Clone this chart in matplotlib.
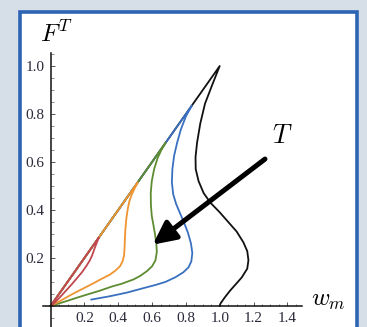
import matplotlib
matplotlib.use("Agg")
import matplotlib.pyplot as plt
from matplotlib.patches import Rectangle
from matplotlib.ticker import MultipleLocator, FixedLocator

plt.rcParams['mathtext.fontset'] = 'cm'
plt.rcParams['font.family'] = ['Liberation Serif', 'DejaVu Serif']

# curves: diagonal from origin up to the peak, then the return branch
black_w = [0.0, 1.00, 0.955, 0.913, 0.885, 0.866, 0.857, 0.858, 0.875, 0.905, 0.945,
           1.00, 1.05, 1.10, 1.14, 1.163, 1.170, 1.163, 1.13, 1.095, 1.061, 1.03, 1.005, 1.0]
black_f = [0.0, 1.00, 0.92, 0.843, 0.76, 0.68, 0.62, 0.57, 0.52, 0.47, 0.43,
           0.39, 0.35, 0.31, 0.265, 0.228, 0.19, 0.155, 0.118, 0.09, 0.063, 0.035, 0.01, 0.0]

blue_w = [0.0, 0.835, 0.80, 0.77, 0.748, 0.73, 0.72, 0.717, 0.725, 0.742, 0.763, 0.79,
          0.812, 0.83, 0.838, 0.832, 0.815, 0.785, 0.74, 0.68, 0.62, 0.55, 0.45, 0.35, 0.24]
blue_f = [0.0, 0.835, 0.79, 0.735, 0.68, 0.625, 0.57, 0.515, 0.465, 0.425, 0.39, 0.345,
          0.305, 0.26, 0.22, 0.185, 0.16, 0.14, 0.12, 0.10, 0.087, 0.074, 0.055, 0.04, 0.026]

green_w = [0.0, 0.68, 0.655, 0.632, 0.612, 0.598, 0.592, 0.593, 0.598, 0.607, 0.617, 0.625,
           0.628, 0.62, 0.60, 0.57, 0.53, 0.49, 0.42, 0.36, 0.29, 0.22, 0.16, 0.095, 0.04, 0.0]
green_f = [0.0, 0.68, 0.65, 0.615, 0.57, 0.52, 0.47, 0.42, 0.375, 0.34, 0.30, 0.26,
           0.225, 0.19, 0.165, 0.145, 0.125, 0.11, 0.092, 0.08, 0.063, 0.048, 0.035, 0.02, 0.008, 0.0]

orange_w = [0.0, 0.515, 0.497, 0.48, 0.465, 0.455, 0.447, 0.442, 0.439, 0.437, 0.434, 0.425,
            0.41, 0.385, 0.35, 0.30, 0.25, 0.20, 0.15, 0.10, 0.05, 0.0]
orange_f = [0.0, 0.515, 0.49, 0.465, 0.435, 0.40, 0.36, 0.32, 0.28, 0.24, 0.21, 0.185,
            0.165, 0.148, 0.13, 0.112, 0.093, 0.075, 0.057, 0.038, 0.018, 0.0]

red_w = [0.0, 0.285, 0.272, 0.26, 0.245, 0.232, 0.21, 0.185, 0.155, 0.125, 0.09, 0.055, 0.025, 0.0]
red_f = [0.0, 0.285, 0.262, 0.24, 0.21, 0.19, 0.165, 0.14, 0.115, 0.09, 0.063, 0.036, 0.014, 0.0]

x_ticks = [0.2, 0.4, 0.6, 0.8, 1.0, 1.2, 1.4]
y_ticks = [0.2, 0.4, 0.6, 0.8, 1.0]

# arrow tail and head in data coords
arrow_tail = (1.268, 0.612)
arrow_head = (0.604, 0.255)

fig = plt.figure(figsize=(3.67, 3.27), dpi=100)
fig.patch.set_facecolor('#d6dee8')

# white panel with blue frame
panel = Rectangle((20 / 367, -0.1), 336.5 / 367, 1.1 - 11.5 / 327,
                  transform=fig.transFigure, facecolor='white',
                  edgecolor='#2d64b3', linewidth=2.6, zorder=-1)
fig.add_artist(panel)

ax = fig.add_axes([0.1174, -0.0086, 0.7046, 0.8471])
ax.patch.set_alpha(0)
ax.set_xlim(-0.045, 1.485)
ax.set_ylim(-0.1, 1.055)

curves = [
    (black_w, black_f, '#111111'),
    (blue_w, blue_f, '#3a70c0'),
    (green_w, green_f, '#5e8c31'),
    (orange_w, orange_f, '#ef9430'),
    (red_w, red_f, '#c0474f'),
]
for w, f, c in curves:
    ax.plot(w, f, color=c, linewidth=1.3, solid_joinstyle='round')

ax.annotate('', xy=arrow_head, xytext=arrow_tail,
            arrowprops=dict(arrowstyle='-|>,head_length=0.55,head_width=0.27',
                            mutation_scale=25, lw=3.6, color='black',
                            shrinkA=0, shrinkB=0))

# Mathematica-style axes through origin
for side in ['top', 'right']:
    ax.spines[side].set_visible(False)
ax.spines['left'].set_position(('data', 0))
ax.spines['bottom'].set_position(('data', 0))
for side in ['left', 'bottom']:
    ax.spines[side].set_linewidth(1.1)
    ax.spines[side].set_color('#111111')

ax.xaxis.set_major_locator(FixedLocator(x_ticks))
ax.yaxis.set_major_locator(FixedLocator(y_ticks))
ax.xaxis.set_minor_locator(MultipleLocator(0.05))
ax.yaxis.set_minor_locator(MultipleLocator(0.05))
ax.set_xticklabels(['%.1f' % v for v in x_ticks])
ax.set_yticklabels(['%.1f' % v for v in y_ticks])
ax.tick_params(which='major', direction='in', length=3.2, width=0.7,
               color='#555555', labelsize=11, labelcolor='#2a2a3a', pad=4.5)
ax.tick_params(which='minor', direction='in', length=1.8, width=0.6, color='#777777')

fig.text(40 / 367, 1 - 42 / 327, r'$F^T$', fontsize=18, ha='left', va='baseline')
fig.text(311 / 367, 1 - 306 / 327, r'$w_m$', fontsize=18, ha='left', va='baseline')
fig.text(272 / 367, 1 - 143 / 327, r'$T$', fontsize=19, ha='left', va='baseline')

fig.savefig('out.png', dpi=100, facecolor=fig.get_facecolor())
